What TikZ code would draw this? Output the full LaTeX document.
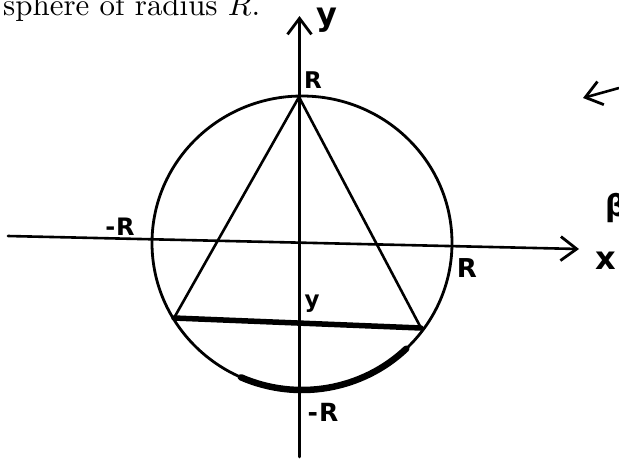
\documentclass[tikz,border=0pt]{standalone}
\usepackage{fontspec}
\newfontfamily\hand{DejaVu Sans}
\usetikzlibrary{arrows.meta}
\begin{document}
\begin{tikzpicture}[x=1pt,y=-1pt,
  pen/.style={line width=2.6pt,line cap=round},
  heavy/.style={line width=5.5pt,line cap=round},
  barb/.style={-{Straight Barb[length=16pt,width=24pt,line width=2.8pt]}},
  lab/.style={inner sep=0pt}]
\useasboundingbox (0,0) rectangle (619,459);
% header text
\node[anchor=base west,inner sep=0pt] (head) at (3,15.5) {\resizebox{257pt}{!}{sphere of radius $R$.}};
% coordinates
\coordinate (C) at (302,243);
\coordinate (A) at (299,97);
\coordinate (L) at (174,318);
\coordinate (Rt) at (421,328);
\coordinate (xs) at (8,236);
\coordinate (xe) at (579,249);
\coordinate (ys) at (299.5,457);
\coordinate (ye) at (299.5,16);
\coordinate (as) at (619,88);
\coordinate (ae) at (583,98);
% circle
\draw[line width=2.8pt] (C) ellipse [x radius=150, y radius=147];
% thick bottom arc
\draw[line width=6.5pt,line cap=round] (C) ++(246:150 and -147) arc [start angle=246,end angle=314,x radius=150,y radius=-147];
% axes
\draw[pen,barb] (xs) -- (xe);
\draw[pen,barb] (ys) -- (ye);
% triangle
\draw[pen] (L) -- (A) -- (Rt);
\draw[heavy] (L) -- (Rt);
% arrow top right
\draw[pen,barb] (as) -- (ae);
% labels
\node[lab,font=\hand\bfseries\fontsize{32}{34}\selectfont] (ly) at (327,20) {y};
\node[lab,font=\hand\bfseries\fontsize{23}{25}\selectfont] (lR1) at (313,80) {R};
\node[lab,font=\hand\bfseries\fontsize{24}{26}\selectfont] (lmR1) at (120,227) {-\kern1pt R};
\node[lab,font=\hand\bfseries\fontsize{26}{28}\selectfont] (lR2) at (467,268) {R};
\node[lab,font=\hand\bfseries\fontsize{32}{34}\selectfont] (lx) at (606,261) {x};
\node[lab,font=\hand\bfseries\fontsize{23}{25}\selectfont] (ly2) at (312,304) {y};
\node[lab,font=\hand\bfseries\fontsize{25}{27}\selectfont] (lmR2) at (323,412) {-\kern1pt R};
\node[lab,anchor=west,font=\hand\bfseries\fontsize{30}{32}\selectfont] (lb) at (605,208) {β};
\end{tikzpicture}
\end{document}
